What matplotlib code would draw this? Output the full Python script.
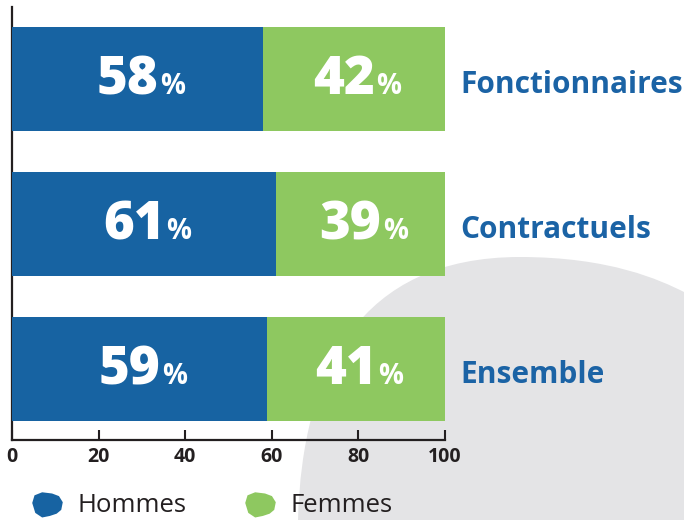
import matplotlib.pyplot as plt
from matplotlib.path import Path
from matplotlib.patches import PathPatch
from matplotlib.lines import Line2D

categories = ["Fonctionnaires", "Contractuels", "Ensemble"]
hommes = [58, 61, 59]
femmes = [42, 39, 41]
ticks = [0, 20, 40, 60, 80, 100]

blue = "#1763a2"
green = "#8ec860"
label_blue = "#1b63a5"
dark = "#231f20"
grey = "#e4e4e6"

plt.rcParams["font.family"] = ["Open Sans", "DejaVu Sans"]

fig = plt.figure(figsize=(6.84, 5.2), dpi=100)

# fond: grande forme grise en bas a droite (coordonnees pixel)
bg = fig.add_axes([0, 0, 1, 1], zorder=0)
bg.set_xlim(0, 684)
bg.set_ylim(520, 0)
bg.axis("off")
verts = [(298, 520), (302, 370), (360, 257), (520, 257),
         (610, 257), (660, 280), (684, 292),
         (684, 520), (298, 520)]
codes = [Path.MOVETO, Path.CURVE4, Path.CURVE4, Path.CURVE4,
         Path.CURVE4, Path.CURVE4, Path.CURVE4,
         Path.LINETO, Path.CLOSEPOLY]
bg.add_patch(PathPatch(Path(verts, codes), facecolor=grey, edgecolor="none"))

ax = fig.add_axes([12 / 684, 80 / 520, 433 / 684, 433 / 520], zorder=1)
ax.patch.set_alpha(0)

ypos = [2, 1, 0]
ax.barh(ypos, hommes, height=0.717, color=blue, zorder=3)
ax.barh(ypos, femmes, left=hommes, height=0.717, color=green, zorder=3)

for y, h, f, cat in zip(ypos, hommes, femmes, categories):
    for cx, val in ((h / 2, h), (h + f / 2, f)):
        ax.annotate(str(val), (cx, y), xytext=(15, -11), textcoords="offset points",
                    ha="right", va="baseline", color="white", fontsize=38,
                    fontweight=800, zorder=4)
        ax.annotate("%", (cx, y), xytext=(16, -11), textcoords="offset points",
                    ha="left", va="baseline", color="white", fontsize=20,
                    fontweight="bold", zorder=4)
    ax.text(103.5, y - 0.04, cat, ha="left", va="center", color=label_blue,
            fontsize=21.5, fontweight="bold", clip_on=False)

ax.set_xlim(0, 100)
ax.set_ylim(-0.49, 2.497)
ax.set_xticks(ticks)
ax.set_xticklabels([str(t) for t in ticks], fontweight="bold", fontsize=14, color=dark)
ax.set_yticks([])
ax.tick_params(axis="x", direction="in", length=7, width=1.5, color=dark, pad=5)
for s in ["top", "right"]:
    ax.spines[s].set_visible(False)
for s in ["left", "bottom"]:
    ax.spines[s].set_color(dark)
    ax.spines[s].set_linewidth(1.6)

blob = Path([(-1, 0.1), (-0.85, 0.6), (-0.35, 0.8), (0.3, 0.72), (0.75, 0.55),
             (1.0, 0.15), (0.9, -0.35), (0.6, -0.6), (0.15, -0.75), (-0.35, -0.85),
             (-0.8, -0.55), (-1, 0.1)])
handles = [Line2D([], [], marker=blob, linestyle="none", markersize=22,
                  markerfacecolor=c, markeredgecolor="none") for c in (blue, green)]
fig.legend(handles, ["Hommes", "Femmes"], loc="center left",
           bbox_to_anchor=(21 / 684, 1 - 506 / 520), ncol=2, frameon=False,
           fontsize=18.5, handletextpad=0.2, columnspacing=1.85,
           labelcolor=dark, borderaxespad=0, borderpad=0)

fig.savefig("out.png", dpi=100)
